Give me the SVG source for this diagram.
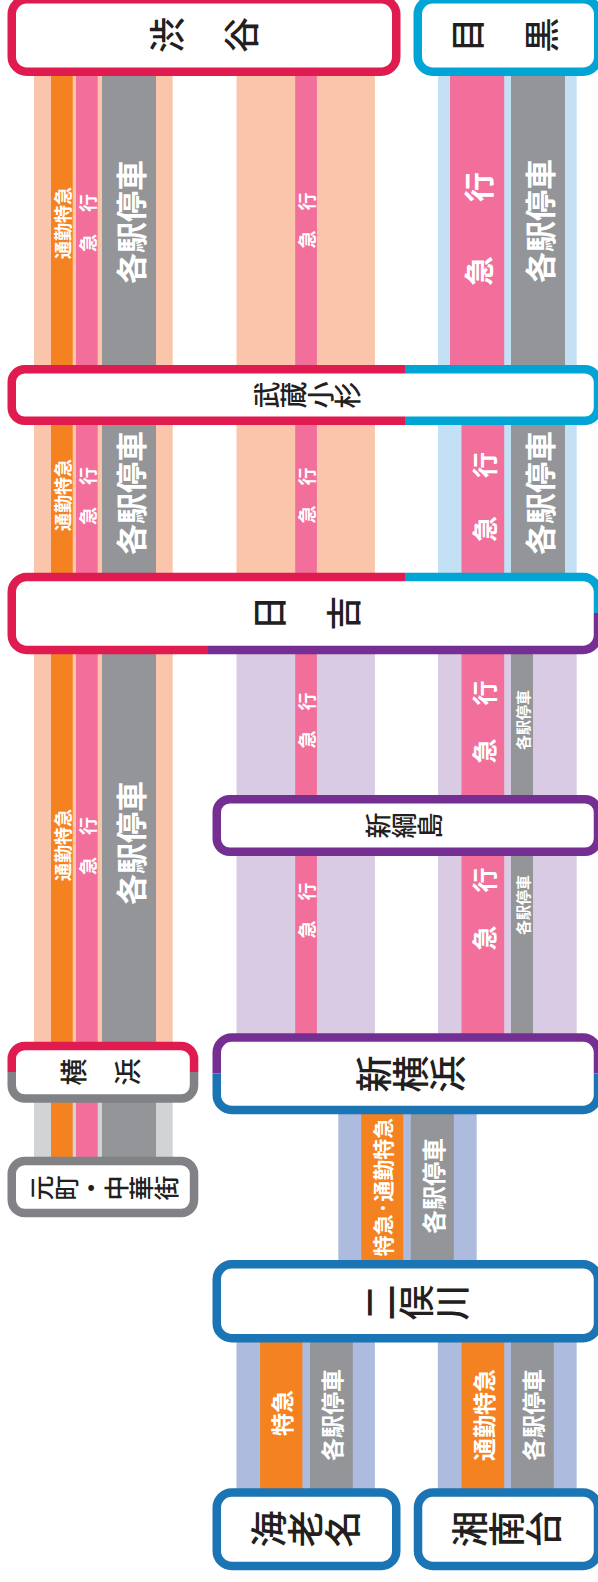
<svg xmlns="http://www.w3.org/2000/svg" width="598" height="1582" viewBox="0 0 598 1582">
<defs>
<style>
.box{fill:#fff;stroke:none}
.bd{fill:none;stroke-width:8.5}
.red{stroke:#e01b50}
.blu{stroke:#00a5d5}
.pur{stroke:#752e91}
.dbl{stroke:#1b74b4}
.gry{stroke:#808285}
.nm{font-family:"Noto Sans CJK JP","Noto Sans CJK SC",sans-serif;fill:#231f20;font-weight:500;writing-mode:vertical-rl;text-anchor:middle}
.lb{font-family:"Noto Sans CJK JP","Noto Sans CJK SC",sans-serif;fill:#fff;font-weight:700;text-anchor:middle;dominant-baseline:central}
.peach{fill:#fbc5ab}
.lblue{fill:#c3e0f5}
.lav{fill:#dacbe4}
.bv{fill:#adbbde}
.lgr{fill:#d1d3d4}
.or{fill:#f58220}
.pk{fill:#f26f9c}
.gy{fill:#939598}
</style>
<clipPath id="cMkR"><rect x="0" y="340" width="405" height="100"/></clipPath>
<clipPath id="cMkB"><rect x="405" y="340" width="200" height="100"/></clipPath>
<clipPath id="cHyR"><path d="M0,560H405V613H208V670H0Z"/></clipPath>
<clipPath id="cHyB"><path d="M405,560H610V613H405Z"/></clipPath>
<clipPath id="cHyP"><path d="M208,613H610V670H208Z"/></clipPath>
<clipPath id="cYkR"><rect x="0" y="1030" width="210" height="42"/></clipPath>
<clipPath id="cYkG"><rect x="0" y="1072" width="210" height="40"/></clipPath>
<clipPath id="cSyP"><rect x="205" y="1020" width="400" height="53.5"/></clipPath>
<clipPath id="cSyB"><rect x="205" y="1073.5" width="400" height="50"/></clipPath>
</defs>

<g id="connectors">
  <!-- left: Toyoko to Yokohama, Minatomirai -->
  <rect class="peach" x="34" y="70" width="138.7" height="976"/>
  <rect class="lgr" x="34" y="1098" width="138.7" height="63"/>
  <rect class="or" x="51" y="70" width="21.7" height="1091"/>
  <rect class="pk" x="76" y="70" width="21.7" height="1091"/>
  <rect class="gy" x="102" y="70" width="54" height="1091"/>
  <!-- middle -->
  <rect class="peach" x="236.5" y="70" width="138.4" height="507"/>
  <rect class="lav" x="236.5" y="650" width="138.4" height="387"/>
  <rect class="pk" x="295.2" y="70" width="21.7" height="967"/>
  <!-- right -->
  <rect class="lblue" x="438" y="70" width="138.7" height="507"/>
  <rect class="lav" x="438" y="650" width="138.7" height="387"/>
  <rect class="pk" x="450" y="70" width="54.2" height="300"/>
  <rect class="pk" x="461.5" y="420" width="42.7" height="617"/>
  <rect class="gy" x="511" y="70" width="54" height="507"/>
  <rect class="gy" x="511" y="650" width="22" height="387"/>
  <!-- Shin-Yokohama to Futamatagawa -->
  <rect class="bv" x="338.3" y="1110" width="138.4" height="154"/>
  <rect class="or" x="361.2" y="1110" width="42" height="154"/>
  <rect class="gy" x="410.8" y="1110" width="43" height="154"/>
  <!-- Futamatagawa to Ebina / Shonandai -->
  <rect class="bv" x="236.5" y="1338" width="138.4" height="154"/>
  <rect class="or" x="260.1" y="1338" width="42.3" height="154"/>
  <rect class="gy" x="310" y="1338" width="42.8" height="154"/>
  <rect class="bv" x="437.8" y="1338" width="138.9" height="154"/>
  <rect class="or" x="461.5" y="1338" width="42.7" height="154"/>
  <rect class="gy" x="511" y="1338" width="42.8" height="154"/>

  <!-- labels -->
  <g class="lb">
    <text transform="translate(62,223) rotate(-90)" font-size="18">通勤特急</text>
    <text transform="translate(87,222) rotate(-90)" font-size="18" letter-spacing="2">急　行</text>
    <text transform="translate(129,222) rotate(-90)" font-size="31">各駅停車</text>
    <text transform="translate(306,220) rotate(-90)" font-size="18" letter-spacing="1">急　行</text>
    <text transform="translate(477,223) rotate(-90)" font-size="30" letter-spacing="12">急　行</text>
    <text transform="translate(538,221) rotate(-90)" font-size="31">各駅停車</text>

    <text transform="translate(62,495) rotate(-90)" font-size="18">通勤特急</text>
    <text transform="translate(87,495) rotate(-90)" font-size="18" letter-spacing="2">急　行</text>
    <text transform="translate(129,493) rotate(-90)" font-size="31">各駅停車</text>
    <text transform="translate(306,495) rotate(-90)" font-size="18" letter-spacing="1">急　行</text>
    <text transform="translate(483,494) rotate(-90)" font-size="26" letter-spacing="6">急　行</text>
    <text transform="translate(538,493) rotate(-90)" font-size="31">各駅停車</text>

    <text transform="translate(62,845) rotate(-90)" font-size="18">通勤特急</text>
    <text transform="translate(87,845) rotate(-90)" font-size="18" letter-spacing="2">急　行</text>
    <text transform="translate(129,843) rotate(-90)" font-size="31">各駅停車</text>

    <text transform="translate(306,720) rotate(-90)" font-size="18" letter-spacing="1">急　行</text>
    <text transform="translate(483,720) rotate(-90)" font-size="25" letter-spacing="4">急　行</text>
    <text transform="translate(522,720) rotate(-90)" font-size="15">各駅停車</text>

    <text transform="translate(306,910) rotate(-90)" font-size="18" letter-spacing="1">急　行</text>
    <text transform="translate(483,907) rotate(-90)" font-size="25" letter-spacing="4">急　行</text>
    <text transform="translate(522,905) rotate(-90)" font-size="15">各駅停車</text>

    <text transform="translate(382,1187) rotate(-90)" font-size="21">特急·通勤特急</text>
    <text transform="translate(432,1186) rotate(-90)" font-size="24">各駅停車</text>

    <text transform="translate(281,1413) rotate(-90)" font-size="23">特急</text>
    <text transform="translate(331,1415) rotate(-90)" font-size="23">各駅停車</text>
    <text transform="translate(483,1415) rotate(-90)" font-size="23">通勤特急</text>
    <text transform="translate(532,1415) rotate(-90)" font-size="23">各駅停車</text>
  </g>
</g>

<g id="shibuya">
  <rect class="box" x="11.75" y="-0.75" width="384.5" height="72.5" rx="15"/>
  <rect class="bd red" x="11.75" y="-0.75" width="384.5" height="72.5" rx="15"/>
  <text class="nm" transform="translate(204.5,35) rotate(-90)" font-size="36" letter-spacing="1">渋　谷</text>
</g>
<g id="meguro">
  <rect class="box" x="417.75" y="-0.75" width="180.5" height="72.5" rx="15"/>
  <rect class="bd blu" x="417.75" y="-0.75" width="180.5" height="72.5" rx="15"/>
  <text class="nm" transform="translate(506,35) rotate(-90)" font-size="35" letter-spacing="2">目　黒</text>
</g>
<g id="musashikosugi">
  <rect class="box" x="11.75" y="369.25" width="586.25" height="51.5" rx="13"/>
  <rect class="bd red" clip-path="url(#cMkR)" x="11.75" y="369.25" width="586.25" height="51.5" rx="13"/>
  <rect class="bd blu" clip-path="url(#cMkB)" x="11.75" y="369.25" width="586.25" height="51.5" rx="13"/>
  <text class="nm" transform="translate(307.5,395) rotate(-90)" font-size="27">武蔵小杉</text>
</g>
<g id="hiyoshi">
  <rect class="box" x="11.75" y="577" width="586.25" height="73" rx="15"/>
  <rect class="bd red" clip-path="url(#cHyR)" x="11.75" y="577" width="586.25" height="73" rx="15"/>
  <rect class="bd blu" clip-path="url(#cHyB)" x="11.75" y="577" width="586.25" height="73" rx="15"/>
  <rect class="bd pur" clip-path="url(#cHyP)" x="11.75" y="577" width="586.25" height="73" rx="15"/>
  <text class="nm" transform="translate(307.5,613) rotate(-90)" font-size="35" letter-spacing="2">日　吉</text>
</g>
<g id="shintsunashima">
  <rect class="box" x="216.75" y="799.25" width="381.25" height="52.5" rx="13"/>
  <rect class="bd pur" x="216.75" y="799.25" width="381.25" height="52.5" rx="13"/>
  <text class="nm" transform="translate(404.5,825.5) rotate(-90)" font-size="26">新綱島</text>
</g>
<g id="yokohama">
  <rect class="box" x="11.75" y="1046" width="182.3" height="52.5" rx="13"/>
  <rect class="bd red" clip-path="url(#cYkR)" x="11.75" y="1046" width="182.3" height="52.5" rx="13"/>
  <rect class="bd gry" clip-path="url(#cYkG)" x="11.75" y="1046" width="182.3" height="52.5" rx="13"/>
  <text class="nm" transform="translate(101,1072) rotate(-90)" font-size="27">横　浜</text>
</g>
<g id="shinyokohama">
  <rect class="box" x="216.75" y="1037.5" width="381.25" height="72.5" rx="15"/>
  <rect class="bd pur" clip-path="url(#cSyP)" x="216.75" y="1037.5" width="381.25" height="72.5" rx="15"/>
  <rect class="bd dbl" clip-path="url(#cSyB)" x="216.75" y="1037.5" width="381.25" height="72.5" rx="15"/>
  <text class="nm" transform="translate(411,1074) rotate(-90)" font-size="37">新横浜</text>
</g>
<g id="motomachichukagai">
  <rect class="box" x="11.75" y="1161" width="182.3" height="52" rx="13"/>
  <rect class="bd gry" x="11.75" y="1161" width="182.3" height="52" rx="13"/>
  <text class="nm" transform="translate(104,1188) rotate(-90)" font-size="25">元町・中華街</text>
</g>
<g id="futamatagawa">
  <rect class="box" x="216.75" y="1264.25" width="381.25" height="74" rx="15"/>
  <rect class="bd dbl" x="216.75" y="1264.25" width="381.25" height="74" rx="15"/>
  <text class="nm" transform="translate(416.5,1302.5) rotate(-90)" font-size="36">二俣川</text>
</g>
<g id="ebina">
  <rect class="box" x="216.75" y="1492.5" width="179.5" height="73.5" rx="15"/>
  <rect class="bd dbl" x="216.75" y="1492.5" width="179.5" height="73.5" rx="15"/>
  <text class="nm" transform="translate(306,1529) rotate(-90)" font-size="37">海老名</text>
</g>
<g id="shonandai">
  <rect class="box" x="418" y="1492.5" width="180" height="73.5" rx="15"/>
  <rect class="bd dbl" x="418" y="1492.5" width="180" height="73.5" rx="15"/>
  <text class="nm" transform="translate(507,1529) rotate(-90)" font-size="37">湘南台</text>
</g>
</svg>
